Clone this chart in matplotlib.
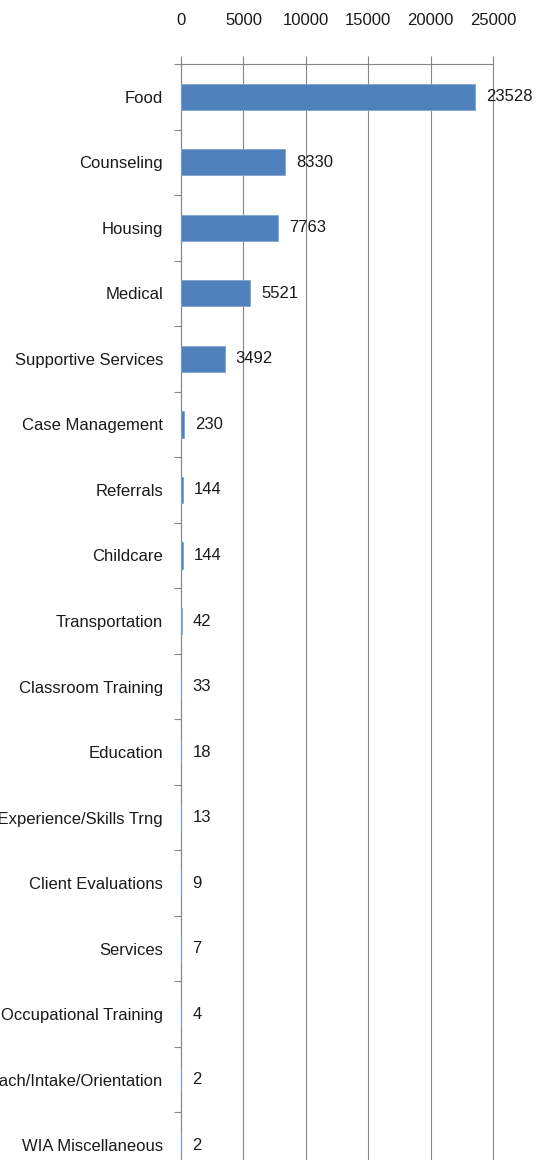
import numpy as np
import matplotlib.pyplot as plt
from matplotlib.ticker import FixedLocator

# categories and counts, top to bottom
categories = ["Food", "Counseling", "Housing", "Medical", "Supportive Services",
              "Case Management", "Referrals", "Childcare", "Transportation",
              "Classroom Training", "Education", "Work Experience/Skills Trng",
              "Client Evaluations", "Services", "Occupational Training",
              "Outreach/Intake/Orientation", "WIA Miscellaneous"]
counts = [23528, 8330, 7763, 5521, 3492, 230, 144, 144, 42, 33, 18, 13, 9, 7, 4, 2, 2]
xticks = [0, 5000, 10000, 15000, 20000, 25000]

plt.rcParams['font.family'] = ['Liberation Sans', 'DejaVu Sans']

fig = plt.figure(figsize=(5.37, 11.6), dpi=100)
ax = fig.add_axes([181/537, (1160-1178)/1160, (493-181)/537, 1114/1160])

y = np.arange(len(categories))
bars = ax.barh(y, counts, height=0.4, color='#4F81BD', edgecolor='#7FA3D0', linewidth=0.6, zorder=3)
ax.bar_label(bars, labels=[str(c) for c in counts], padding=8, fontsize=12, color='#1a1a1a')

ax.set_xlim(0, 25000)
ax.set_ylim(len(categories) - 0.5, -0.5)
ax.xaxis.tick_top()
ax.set_xticks(xticks)
ax.set_xticklabels([str(t) for t in xticks], fontsize=12, color='#1a1a1a')
ax.tick_params(axis='x', length=6, width=0.8, color='#868686', pad=20)
ax.grid(axis='x', color='#868686', linewidth=0.8, zorder=0)
for gl in ax.get_xgridlines():
    gl.set_clip_on(False)

ax.set_yticks(y)
ax.set_yticklabels(categories, fontsize=12, color='#1a1a1a')
ax.tick_params(axis='y', which='major', length=0, pad=13)
ax.yaxis.set_minor_locator(FixedLocator(np.arange(len(categories) + 1) - 0.5))
ax.tick_params(axis='y', which='minor', length=5, width=0.8, color='#868686')

for side in ['right', 'bottom']:
    ax.spines[side].set_visible(False)
for side in ['top', 'left']:
    ax.spines[side].set_color('#868686')
    ax.spines[side].set_linewidth(0.8)

fig.savefig('out.png', dpi=100)
